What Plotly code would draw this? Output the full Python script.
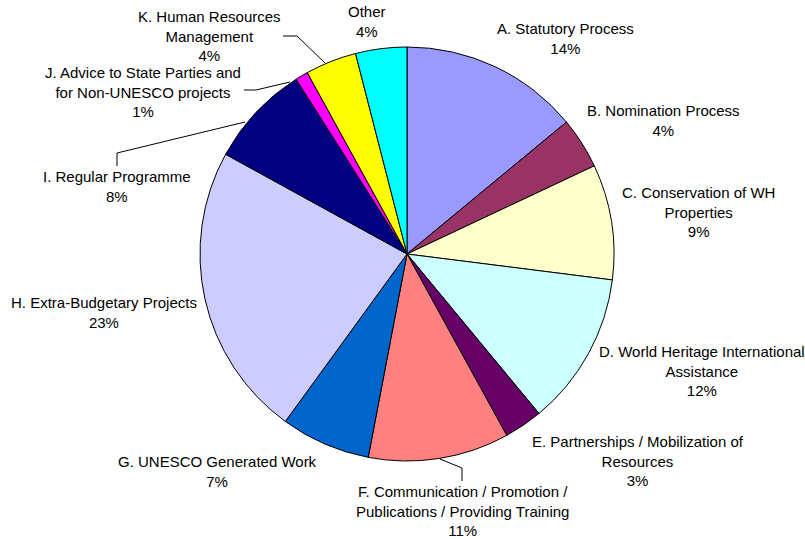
import plotly.graph_objects as go

W, H = 805, 539

categories = [
    "A. Statutory Process",
    "B. Nomination Process",
    "C. Conservation of WH<br>Properties",
    "D. World Heritage International<br>Assistance",
    "E. Partnerships / Mobilization of<br>Resources",
    "F. Communication / Promotion /<br>Publications / Providing Training",
    "G. UNESCO Generated Work",
    "H. Extra-Budgetary Projects",
    "I. Regular Programme",
    "J. Advice to State Parties and<br>for Non-UNESCO projects",
    "K. Human Resources<br>Management",
    "Other",
]
shares = [14, 4, 9, 12, 3, 11, 7, 23, 8, 1, 4, 4]
colors = ["#9999FF", "#993366", "#FFFFCC", "#CCFFFF", "#660066", "#FF8080",
          "#0066CC", "#CCCCFF", "#000080", "#FF00FF", "#FFFF00", "#00FFFF"]

# label anchor (pixel centre of the text block)
label_pos = [(565, 38), (663, 120), (698, 212), (702, 371), (638, 461), (462, 511),
             (217, 471), (104, 312), (117, 187), (143, 92), (209, 36), (367, 21)]

# leader lines (pixel polylines)
leaders = [
    [(462, 481), (462, 468), (440, 459)],
    [(117, 166), (117, 153), (245, 122)],
    [(244, 90), (256, 90), (290, 82)],
    [(283, 36), (297, 36), (325, 63)],
]

cx, cy, r = 407, 254, 207


def px(x, y):
    return x / W, 1 - y / H


fig = go.Figure(go.Pie(
    labels=categories,
    values=shares,
    sort=False,
    direction="clockwise",
    rotation=0,
    marker=dict(colors=colors, line=dict(color="black", width=1)),
    textinfo="none",
    hoverinfo="label+percent",
    showlegend=False,
    domain=dict(x=[(cx - r) / W, (cx + r) / W], y=[1 - (cy + r) / H, 1 - (cy - r) / H]),
))

total = sum(shares)
for name, v, (x, y) in zip(categories, shares, label_pos):
    ax, ay = px(x, y)
    fig.add_annotation(
        x=ax, y=ay, xref="paper", yref="paper",
        text="{}<br>{:.0f}%".format(name, v * 100 / total),
        showarrow=False, xanchor="center", yanchor="middle", align="center",
        font=dict(family="Liberation Sans, Arial", size=15, color="black"),
    )

for pts in leaders:
    path = "M " + " L ".join("{:.5f},{:.5f}".format(*px(x, y)) for x, y in pts)
    fig.add_shape(type="path", path=path, xref="paper", yref="paper",
                  line=dict(color="black", width=1))

fig.update_layout(
    width=W, height=H,
    margin=dict(l=0, r=0, t=0, b=0),
    paper_bgcolor="white",
    plot_bgcolor="white",
)

# page body has an 8px default margin; drop it so the figure fills the window
fig.write_html("out.html", config={"displayModeBar": False},
               post_script="document.body.style.margin='0';")
